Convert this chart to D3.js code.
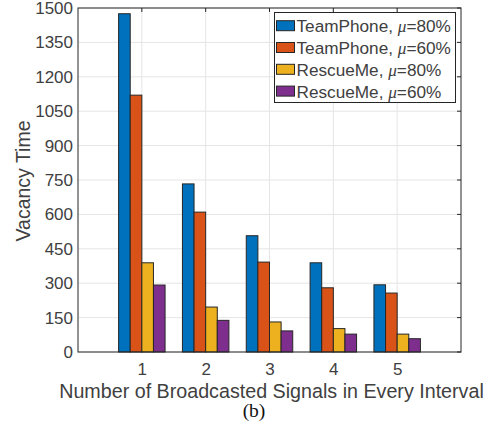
<!DOCTYPE html>
<html>
<head>
<meta charset="utf-8">
<script src="https://cdn.jsdelivr.net/npm/d3@7"></script>
<style>
  html, body { margin: 0; padding: 0; background: #fff; }
  svg { display: block; }
</style>
</head>
<body>
<svg id="chart" width="489" height="425"></svg>
<script>
// Number of broadcasted signals per interval (x categories)
const categories = [1, 2, 3, 4, 5];

// Vacancy time for each scheme / threshold
const teamPhone80 = [1475, 733, 507, 389, 293];
const teamPhone60 = [1120, 610, 392, 280, 257];
const rescueMe80  = [389, 196, 131, 102, 78];
const rescueMe60  = [292, 138, 92, 78, 58];

const seriesNames = ["TeamPhone", "TeamPhone", "RescueMe", "RescueMe"];
const seriesMu = ["80%", "60%", "80%", "60%"];
const seriesColors = ["#0072BD", "#D95319", "#EDB120", "#7E2F8E"];
const yTicks = [0, 150, 300, 450, 600, 750, 900, 1050, 1200, 1350, 1500];

const series = [teamPhone80, teamPhone60, rescueMe80, rescueMe60];

const svg = d3.select("#chart");
const plotL = 78, plotR = 461, plotT = 8, plotB = 352;

const x = d3.scaleLinear().domain([0, 6]).range([plotL, plotR]);
const y = d3.scaleLinear().domain([0, 1500]).range([plotB, plotT]);

const axisColor = "#262626";
const textColor = "#404040";
const font = "'Liberation Sans', Arial, Helvetica, sans-serif";
const serif = "'Liberation Serif', 'Times New Roman', serif";

// grid
const grid = svg.append("g");
grid.selectAll("line.gy").data(yTicks).join("line")
  .attr("x1", plotL).attr("x2", plotR)
  .attr("y1", d => y(d)).attr("y2", d => y(d))
  .attr("stroke", "#e5e5e5").attr("stroke-width", 1);
grid.selectAll("line.gx").data(categories).join("line")
  .attr("x1", d => x(d)).attr("x2", d => x(d))
  .attr("y1", plotT).attr("y2", plotB)
  .attr("stroke", "#e5e5e5").attr("stroke-width", 1);

// inward ticks on the top and right edges of the box
const tickLen = 4;
const frame = svg.append("g").attr("stroke", axisColor).attr("stroke-width", 1);
frame.selectAll("line.tt").data(categories).join("line")
  .attr("x1", d => x(d)).attr("x2", d => x(d))
  .attr("y1", plotT).attr("y2", plotT + tickLen);
frame.selectAll("line.rt").data(yTicks).join("line")
  .attr("x1", plotR - tickLen).attr("x2", plotR)
  .attr("y1", d => y(d)).attr("y2", d => y(d));

// grouped bars
const barW = 0.182;
const bars = svg.append("g");
series.forEach((vals, si) => {
  bars.selectAll(null).data(vals).join("rect")
    .attr("x", (d, i) => x(categories[i] + (si - 2) * barW))
    .attr("y", d => y(d))
    .attr("width", x(barW) - x(0))
    .attr("height", d => y(0) - y(d))
    .attr("fill", seriesColors[si])
    .attr("stroke", "#262626")
    .attr("stroke-width", 1);
});

// box outline
svg.append("rect")
  .attr("x", plotL).attr("y", plotT)
  .attr("width", plotR - plotL).attr("height", plotB - plotT)
  .attr("fill", "none").attr("stroke", axisColor).attr("stroke-width", 1);

// y axis labels
const yAxis = d3.axisLeft(y).tickValues(yTicks).tickFormat(d3.format("d")).tickSize(0).tickPadding(5);
const gy = svg.append("g").attr("transform", `translate(${plotL},0)`).call(yAxis);
gy.select(".domain").remove();
gy.selectAll("text").attr("fill", textColor).style("font-family", font).style("font-size", "17px");

// x axis labels
const xAxis = d3.axisBottom(x).tickValues(categories).tickFormat(d3.format("d")).tickSize(0).tickPadding(11);
const gx = svg.append("g").attr("transform", `translate(0,${plotB})`).call(xAxis);
gx.select(".domain").remove();
gx.selectAll("text").attr("fill", textColor).style("font-family", font).style("font-size", "17px");

// axis titles
svg.append("text")
  .attr("x", (plotL + plotR) / 2 + 2).attr("y", 397.5)
  .attr("text-anchor", "middle")
  .attr("fill", textColor)
  .style("font-family", font).style("font-size", "19.7px")
  .text("Number of Broadcasted Signals in Every Interval");

svg.append("text")
  .attr("transform", `translate(30,${(plotT + plotB) / 2 + 1}) rotate(-90)`)
  .attr("text-anchor", "middle")
  .attr("fill", textColor)
  .style("font-family", font).style("font-size", "19.5px")
  .text("Vacancy Time");

svg.append("text")
  .attr("x", 254).attr("y", 416.5)
  .attr("text-anchor", "middle")
  .attr("fill", "#111")
  .style("font-family", serif)
  .style("font-size", "19.5px")
  .text("(b)");

// legend
const lg = svg.append("g");
lg.append("rect")
  .attr("x", 274.5).attr("y", 12.5).attr("width", 181).attr("height", 90)
  .attr("fill", "#fff").attr("stroke", "#262626").attr("stroke-width", 1);
seriesNames.forEach((name, i) => {
  const cy = 25.7 + i * 21.8;
  lg.append("rect")
    .attr("x", 276.5).attr("y", cy - 5).attr("width", 18).attr("height", 10)
    .attr("fill", seriesColors[i]).attr("stroke", "#262626").attr("stroke-width", 1);
  const t = lg.append("text")
    .attr("x", 296.5).attr("y", cy + 6.5)
    .attr("fill", textColor)
    .style("font-family", font).style("font-size", "17.2px");
  t.append("tspan").text(name + ", ");
  t.append("tspan").style("font-style", "italic")
    .style("font-family", serif).text("μ");
  t.append("tspan").text("=" + seriesMu[i]);
});
</script>
</body>
</html>
